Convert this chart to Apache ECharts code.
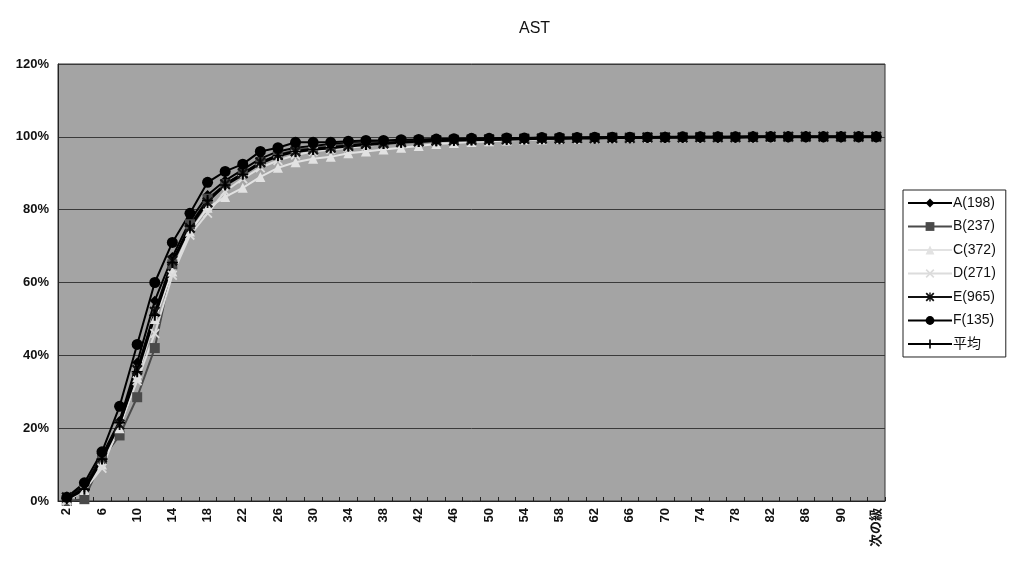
<!DOCTYPE html>
<html>
<head>
<meta charset="utf-8">
<script src="https://cdn.jsdelivr.net/npm/echarts@6/dist/echarts.min.js"></script>
<style>
  html, body { margin: 0; padding: 0; background: #fff; }
  #chart { width: 1013px; height: 570px; }
</style>
</head>
<body>
<div id="chart"></div>
<script>
// Categories: class upper bounds 2..92, then the overflow class
const categories = [];
for (let v = 2; v <= 92; v += 2) categories.push(String(v));
categories.push('次の級');

// Cumulative share (%) per class
const seriesA = [1,4,12.5,22,38,55,67,77,84,88,91,94,96,97,97.5,98,98.3,98.5,98.8,99,99.1,99.2,99.3,99.4,99.5,99.5,99.6,99.6,99.7,99.7,99.8,99.8,99.8,99.9,99.9,99.9,99.9,99.9,100,100,100,100,100,100,100,100,100];
const seriesB = [0,0.5,11.5,18,28.5,42,65,76,83,87,90,93,95,96.5,97,97.5,98,98.3,98.5,98.8,99,99.1,99.2,99.3,99.4,99.5,99.5,99.6,99.6,99.7,99.7,99.8,99.8,99.8,99.9,99.9,99.9,99.9,99.9,100,100,100,100,100,100,100,100];
const seriesC = [0.5,3,10,20,34,50,63,74,80.5,83.5,86,89,91.5,93,94,94.5,95.5,96,96.5,97,97.5,98,98.3,98.6,98.8,99,99.2,99.3,99.4,99.5,99.6,99.6,99.7,99.7,99.8,99.8,99.8,99.9,99.9,99.9,99.9,100,100,100,100,100,100];
const seriesD = [0,3,9,21,33,46,62,73,79,85,88.5,91.5,93.5,95,96,96.5,97,97.5,98,98.3,98.5,98.7,98.9,99,99.2,99.3,99.4,99.5,99.5,99.6,99.7,99.7,99.8,99.8,99.8,99.9,99.9,99.9,99.9,100,100,100,100,100,100,100,100];
const seriesE = [1,4,12,21,36,52,66,75,82,87,90,93,95,96,96.5,97,97.5,98,98.2,98.5,98.7,98.9,99,99.1,99.2,99.3,99.4,99.5,99.5,99.6,99.6,99.7,99.7,99.8,99.8,99.8,99.9,99.9,99.9,99.9,100,100,100,100,100,100,100];
const seriesF = [1,5,13.5,26,43,60,71,79,87.5,90.5,92.5,96,97,98.5,98.5,98.5,98.8,99,99,99.2,99.3,99.4,99.5,99.6,99.6,99.7,99.7,99.8,99.8,99.8,99.9,99.9,99.9,99.9,99.9,100,100,100,100,100,100,100,100,100,100,100,100];
const seriesAvg = [0.6,3.2,11.5,21.5,35.5,51,65.5,75.5,82.5,86.8,89.7,92.8,94.8,96,96.6,97,97.5,97.9,98.2,98.5,98.7,98.9,99.1,99.2,99.3,99.4,99.5,99.6,99.6,99.7,99.7,99.8,99.8,99.8,99.9,99.9,99.9,99.9,99.9,100,100,100,100,100,100,100,100];

const yTicks = [0, 20, 40, 60, 80, 100, 120];

// Marker shapes
const crossPath = 'path://M0,1.3L1.3,0L5,3.7L8.7,0L10,1.3L6.3,5L10,8.7L8.7,10L5,6.3L1.3,10L0,8.7L3.7,5Z';
const starPath = 'path://M0,1.4L1.4,0L5,3.6L8.6,0L10,1.4L6.4,5L10,8.6L8.6,10L5,6.4L1.4,10L0,8.6L3.6,5Z M4.2,0H5.8V10H4.2Z';
const plusPath = 'path://M4.1,0H5.9V10H4.1Z M0,4.3H10V5.7H0Z';

function mk(name, data, color, symbol, size, width) {
  return {
    name, type: 'line', data,
    symbol, symbolSize: size, showAllSymbol: true,
    lineStyle: { color, width },
    itemStyle: { color },
    emphasis: { disabled: true },
    animation: false
  };
}

const chart = echarts.init(document.getElementById('chart'), null, { renderer: 'canvas' });
chart.setOption({
  backgroundColor: '#ffffff',
  textStyle: { fontFamily: 'Liberation Sans, "Noto Sans CJK JP", sans-serif' },
  title: {
    text: 'AST', left: 514, top: 16,
    textStyle: { fontSize: 16, fontWeight: 'normal', color: '#111' }
  },
  grid: {
    left: 58, right: 128, top: 64, bottom: 69,
    show: true, backgroundColor: '#a4a4a4', borderColor: '#333', borderWidth: 1
  },
  legend: {
    orient: 'vertical', left: 903, top: 190,
    itemWidth: 44, itemHeight: 11, itemGap: 9.5,
    padding: [6, 10, 6, 4],
    backgroundColor: '#fff', borderColor: '#222', borderWidth: 1, borderRadius: 0,
    textStyle: { fontSize: 14, color: '#111', padding: [0, 0, 0, -4] },
    data: ['A(198)', 'B(237)', 'C(372)', 'D(271)', 'E(965)', 'F(135)', '平均']
  },
  xAxis: {
    type: 'category', data: categories, boundaryGap: true,
    axisLine: { lineStyle: { color: '#222', width: 1 } },
    axisTick: { show: true, inside: true, length: 4, interval: 0, lineStyle: { color: '#222' } },
    axisLabel: {
      rotate: 90, interval: 1, fontSize: 13, fontWeight: 'bold', color: '#111', margin: 7,
      fontFamily: 'Liberation Sans, "Noto Sans CJK JP", sans-serif'
    },
    splitLine: { show: false }
  },
  yAxis: {
    type: 'value', min: yTicks[0], max: yTicks[yTicks.length - 1], interval: 20,
    axisLine: { show: true, lineStyle: { color: '#222' } },
    axisTick: { show: false },
    axisLabel: { formatter: '{value}%', fontSize: 13, fontWeight: 'bold', color: '#111', margin: 9 },
    splitLine: { show: true, lineStyle: { color: '#3a3a3a', width: 1 } }
  },
  series: [
    mk('A(198)', seriesA, '#000000', 'diamond', 10, 2),
    mk('B(237)', seriesB, '#4a4a4a', 'rect', 10, 2),
    mk('C(372)', seriesC, '#e2e2e2', 'triangle', 10, 2),
    mk('D(271)', seriesD, '#dcdcdc', crossPath, 10, 2),
    mk('E(965)', seriesE, '#111111', starPath, 11, 2),
    mk('F(135)', seriesF, '#000000', 'circle', 11, 2),
    mk('平均', seriesAvg, '#000000', plusPath, 11, 3)
  ]
});
</script>
</body>
</html>
